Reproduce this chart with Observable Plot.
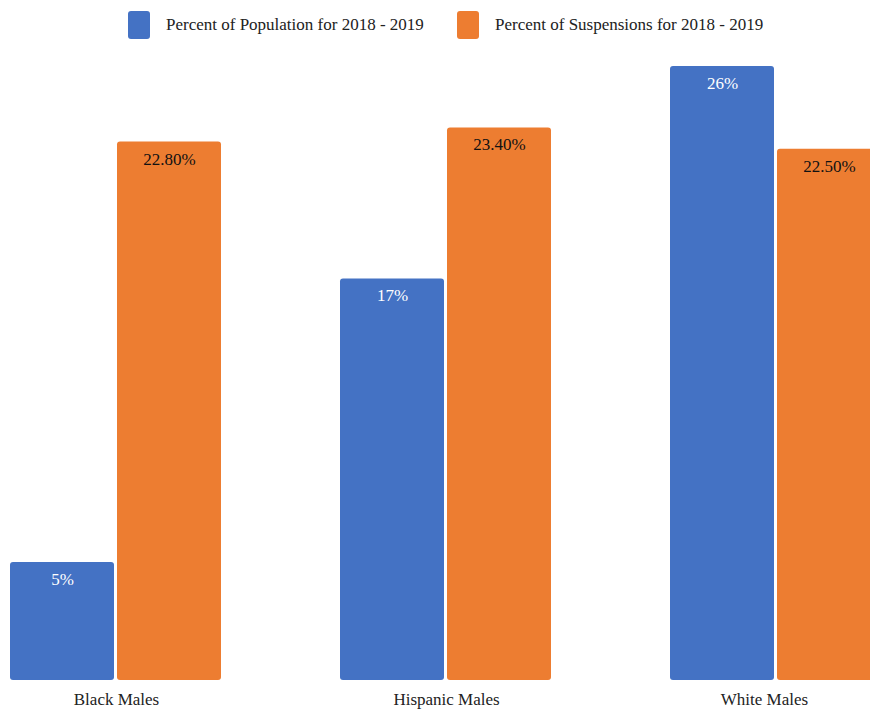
<!DOCTYPE html>
<html>
<head>
<meta charset="utf-8">
<script src="https://cdn.jsdelivr.net/npm/d3@7"></script>
<script src="https://cdn.jsdelivr.net/npm/@observablehq/plot@0.6"></script>
<style>
  html, body { margin: 0; padding: 0; background: #fff; overflow: hidden; font-family: 'Liberation Serif', serif; }
  #chart svg text { font-family: 'Liberation Serif', serif !important; }
</style>
</head>
<body style="font-family:'Liberation Serif', serif">
<div id="wrap" style="width:870px;height:709px;overflow:hidden;position:relative;font-family:'Liberation Serif', serif">
  <div id="legend" style="height:50px;position:relative;font-size:17px;color:#222;font-family:'Liberation Serif', serif"></div>
  <div id="chart"></div>
</div>
<script>
const categories = ["Black Males", "Hispanic Males", "White Males"];
const seriesNames = ["Percent of Population for 2018 - 2019", "Percent of Suspensions for 2018 - 2019"];
const populationValues = [5, 17, 26];
const suspensionValues = [22.8, 23.4, 22.5];
const populationLabels = ["5%", "17%", "26%"];
const suspensionLabels = ["22.80%", "23.40%", "22.50%"];
const colors = ["#4472C4", "#ED7D31"];
const labelColors = ["#ffffff", "#111111"];

const data = [];
categories.forEach((c, i) => {
  data.push({cat: c, series: seriesNames[0], value: populationValues[i], label: populationLabels[i]});
  data.push({cat: c, series: seriesNames[1], value: suspensionValues[i], label: suspensionLabels[i]});
});

// legend
const legend = document.getElementById("legend");
const lefts = [128, 457];
seriesNames.forEach((s, i) => {
  const it = document.createElement("div");
  it.setAttribute("style", `position:absolute;top:11px;left:${lefts[i]}px;display:flex;align-items:center;font-family:'Liberation Serif', serif;white-space:nowrap`);
  it.innerHTML = `<div style="width:22px;height:28px;border-radius:3px;margin-right:16px;background:${colors[i]}"></div><span style="font-family:'Liberation Serif', serif">${s}</span>`;
  legend.appendChild(it);
});

const chart = Plot.plot({
  width: 870,
  height: 659,
  marginLeft: 10,
  marginRight: -12,
  marginTop: 16,
  marginBottom: 29,
  style: {fontFamily: "'Liberation Serif', serif", fontSize: "17px", color: "#222", background: "#fff"},
  fx: {domain: categories, paddingInner: 0.358, paddingOuter: 0, label: null, axis: null},
  x: {domain: seriesNames, paddingInner: 0.028, paddingOuter: 0, axis: null},
  y: {domain: [0, 26], axis: null},
  color: {domain: seriesNames, range: colors},
  marks: [
    Plot.barY(data, {fx: "cat", x: "series", y: "value", fill: "series", rx: 3}),
    Plot.text(data, {fx: "cat", x: "series", y: "value", text: "label", dy: 17, fontSize: 17,
      fill: d => d.series === seriesNames[0] ? labelColors[0] : labelColors[1]}),
    Plot.axisFx({anchor: "bottom", ticks: categories.slice(0, 2), tickSize: 0, tickPadding: 12, fontSize: 17, label: null}),
    Plot.axisFx({anchor: "bottom", ticks: categories.slice(2), tickSize: 0, tickPadding: 12, fontSize: 17, label: null, dx: -12})
  ]
});
chart.style.display = "block";
document.getElementById("chart").appendChild(chart);
</script>
</body>
</html>
